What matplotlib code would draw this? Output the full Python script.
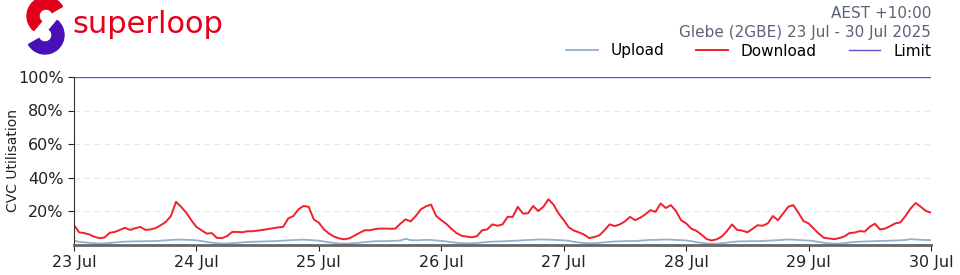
import numpy as np
import pandas as pd
import matplotlib
matplotlib.use("Agg")
import matplotlib.pyplot as plt
import matplotlib.dates as mdates
from matplotlib.patches import Wedge

# hourly CVC utilisation (%), one list per day
download_days = {
    "23 Jul": [11.6, 7.3, 6.8, 6.0, 4.6, 3.8, 4.2, 7.0, 7.5, 8.7, 10.0, 8.7,
               9.7, 10.5, 8.7, 9.0, 9.8, 11.5, 13.5, 17.0, 25.5, 22.5, 19.0, 14.5],
    "24 Jul": [10.5, 8.5, 6.5, 6.8, 4.0, 3.8, 5.0, 7.5, 7.5, 7.3, 7.9, 7.9,
               8.3, 8.7, 9.2, 9.7, 10.2, 10.5, 15.6, 17.0, 21.0, 23.0, 22.5, 15.0],
    "25 Jul": [13.0, 9.0, 6.5, 4.7, 3.6, 3.1, 3.7, 5.3, 7.0, 8.5, 8.5, 9.2,
               9.5, 9.5, 9.4, 9.5, 12.5, 15.0, 13.8, 17.0, 21.0, 22.8, 23.8, 17.0],
    "26 Jul": [14.5, 12.3, 9.3, 6.8, 5.2, 4.7, 4.3, 5.0, 8.5, 9.0, 12.0, 11.2,
               12.0, 16.5, 16.5, 22.5, 18.5, 18.6, 23.0, 20.0, 22.5, 27.0, 23.8, 18.5],
    "27 Jul": [14.6, 10.2, 8.3, 7.2, 5.9, 3.8, 4.5, 5.5, 8.5, 12.0, 11.0, 12.0,
               13.8, 16.5, 14.5, 16.0, 18.0, 20.5, 19.5, 24.5, 21.8, 23.5, 20.0, 14.5],
    "28 Jul": [12.6, 9.5, 8.2, 5.9, 3.3, 2.4, 3.1, 4.8, 8.0, 12.0, 8.7, 8.3,
               7.3, 9.3, 11.5, 11.2, 12.6, 17.0, 14.5, 18.5, 22.5, 23.5, 19.0, 14.0],
    "29 Jul": [12.6, 9.5, 6.5, 4.0, 3.6, 3.2, 3.8, 4.8, 6.8, 7.1, 8.0, 7.7,
               10.6, 12.4, 9.0, 9.5, 11.0, 12.6, 13.2, 17.0, 21.5, 24.8, 22.5, 20.0],
}
download_end = 19.0

upload_days = {
    "23 Jul": [2.3, 1.6, 1.3, 1.0, 0.8, 0.6, 0.7, 0.9, 1.2, 1.5, 1.7, 1.8,
               1.9, 1.9, 2.0, 2.0, 2.1, 2.3, 2.5, 2.7, 2.9, 2.9, 2.8, 2.7],
    "24 Jul": [2.5, 2.1, 1.5, 1.1, 0.8, 0.6, 0.6, 0.8, 1.0, 1.3, 1.5, 1.6,
               1.7, 1.8, 1.9, 2.0, 2.1, 2.3, 2.5, 2.6, 2.8, 2.9, 2.7, 2.5],
    "25 Jul": [2.3, 1.8, 1.3, 0.9, 0.6, 0.5, 0.6, 0.8, 1.1, 1.4, 1.7, 1.9,
               2.0, 2.0, 2.1, 2.2, 2.4, 3.4, 2.6, 2.5, 2.6, 2.8, 2.7, 2.4],
    "26 Jul": [2.2, 1.8, 1.4, 1.0, 0.8, 0.7, 0.7, 0.9, 1.2, 1.5, 1.7, 1.8,
               1.9, 2.0, 2.2, 2.3, 2.5, 2.7, 2.8, 3.0, 3.0, 2.9, 2.8, 2.6],
    "27 Jul": [2.5, 2.2, 1.6, 1.2, 0.9, 0.7, 0.8, 1.0, 1.3, 1.6, 1.8, 1.9,
               2.0, 2.1, 2.1, 2.3, 2.5, 2.8, 2.7, 2.9, 3.0, 2.9, 2.7, 2.6],
    "28 Jul": [2.4, 2.0, 1.4, 1.0, 0.6, 0.4, 0.5, 0.8, 1.1, 1.5, 1.8, 1.9,
               1.9, 2.0, 2.0, 2.1, 2.3, 2.4, 2.6, 2.8, 3.0, 2.9, 2.7, 2.5],
    "29 Jul": [2.4, 2.0, 1.5, 1.0, 0.7, 0.5, 0.6, 0.8, 1.2, 1.5, 1.7, 1.8,
               1.9, 2.0, 2.1, 2.2, 2.3, 2.4, 2.5, 2.7, 3.2, 3.0, 2.8, 2.7],
}
upload_end = 2.6

limit_value = 100
y_ticks = [20, 40, 60, 80, 100]

download = sum(download_days.values(), []) + [download_end]
upload = sum(upload_days.values(), []) + [upload_end]
times = pd.date_range("2025-07-23 00:00", periods=len(download), freq="h")

RED = "#f0202c"
UPLOAD_C = "#8fafd3"
LIMIT_C = "#5b55d0"
HEAD_C = "#5a6476"

fig = plt.figure(figsize=(9.6, 2.75), dpi=100)
ax = fig.add_axes([74 / 960, 1 - 244.5 / 275, (931 - 74) / 960, (244.5 - 77) / 275])

ax.plot(times, upload, color=UPLOAD_C, lw=1.3, label="Upload")
ax.plot(times, download, color=RED, lw=1.4, label="Download")
ax.plot([times[0], times[-1]], [limit_value, limit_value], color=LIMIT_C, lw=1.0, label="Limit")

ax.set_xlim(times[0], times[-1])
ax.set_ylim(0, 100)
ax.set_yticks(y_ticks)
ax.set_yticklabels(["%d%%" % v for v in y_ticks])
ax.xaxis.set_major_locator(mdates.DayLocator())
ax.xaxis.set_major_formatter(mdates.DateFormatter("%d %b"))
ax.tick_params(labelsize=11.5, length=4, width=0.8, colors="#222222")
for g in y_ticks[:-1]:
    ax.axhline(g, color="#e3e8ef", lw=0.8, ls=(0, (5, 4)), zorder=0)
for s in ["top", "right"]:
    ax.spines[s].set_visible(False)
ax.spines["left"].set_color("#333333")
ax.spines["left"].set_linewidth(0.8)
ax.spines["bottom"].set_color("#666666")
ax.spines["bottom"].set_linewidth(2)
ax.set_ylabel("CVC Utilisation", fontsize=10, color="#222222")
ax.yaxis.set_label_coords((20 - 74) / 857, 0.5)

fig.text(931 / 960, 1 - 14 / 275, "AEST +10:00", ha="right", va="center", fontsize=11, color=HEAD_C)
fig.text(931 / 960, 1 - 32 / 275, "Glebe (2GBE) 23 Jul - 30 Jul 2025", ha="right", va="center",
         fontsize=11, color=HEAD_C)
fig.legend(loc="center right", bbox_to_anchor=(937 / 960, 1 - 51 / 275), ncol=3, frameon=False,
           fontsize=11, handlelength=2.05, columnspacing=2.1, handletextpad=0.85, borderaxespad=0)

# logo
lg = fig.add_axes([0, 0, 1, 1], zorder=-1)
lg.set_xlim(0, 960)
lg.set_ylim(0, 275)
lg.axis("off")
lg.add_patch(Wedge((46, 275 - 16), 19, 30, 230, width=12, color="#e3001b"))
lg.add_patch(Wedge((45, 275 - 35), 19, -150, 50, width=12, color="#4a10b8"))
lg.text(72, 275 - 33, "superloop", fontsize=22, color="#e3001b", ha="left", va="baseline")

fig.savefig("out.png", dpi=100)
